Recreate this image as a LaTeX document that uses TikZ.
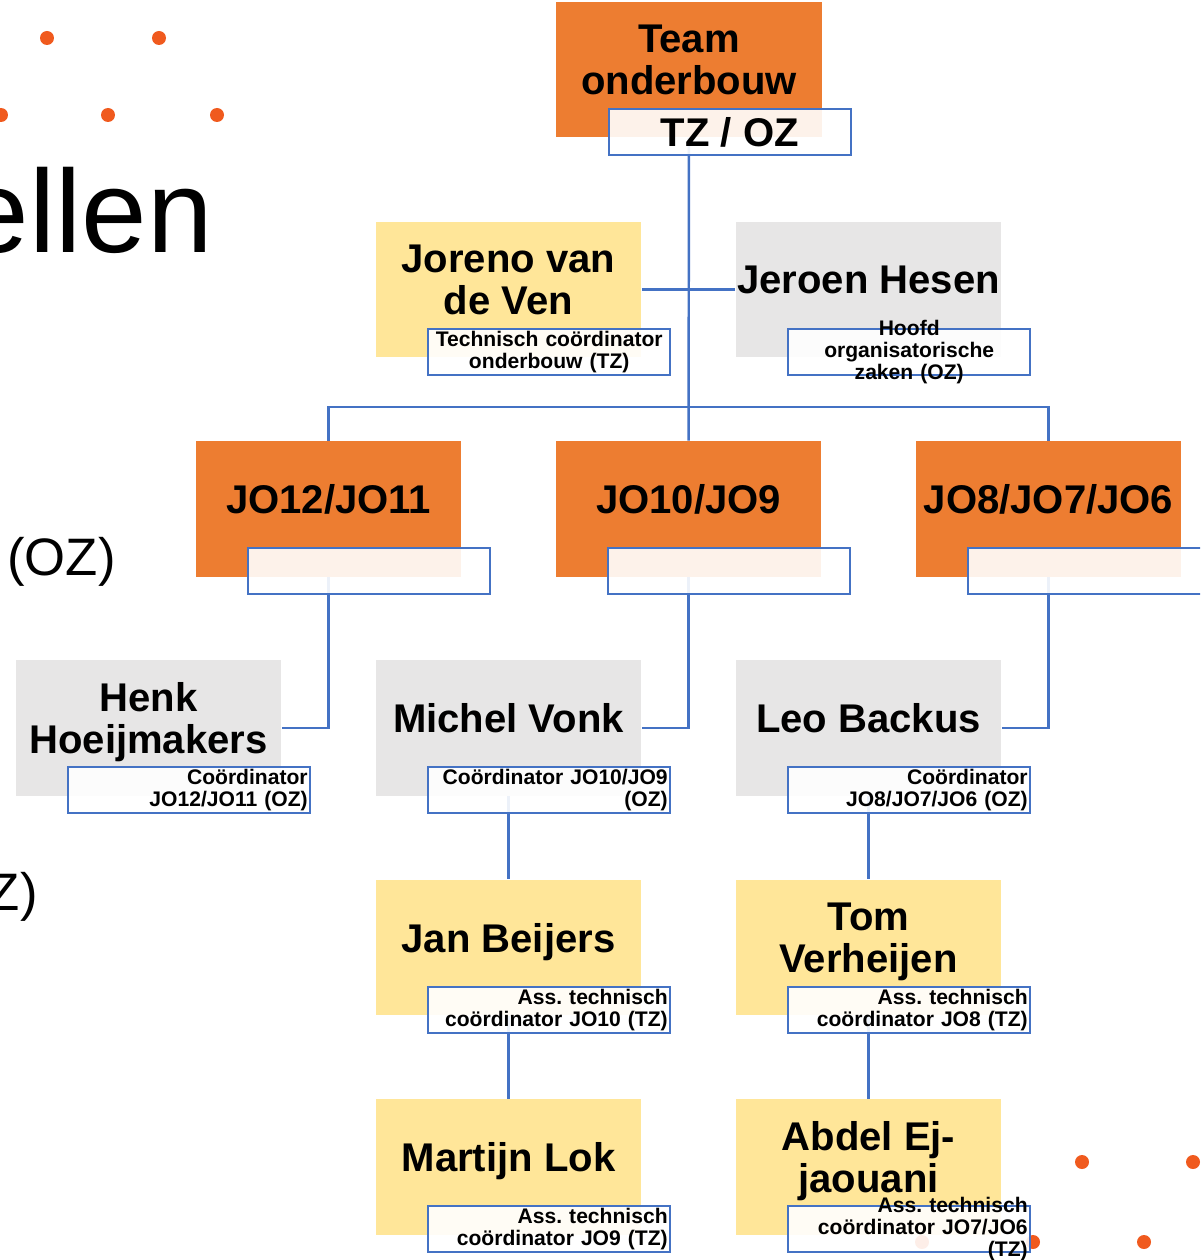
\documentclass[tikz,border=0pt]{standalone}
\usepackage{fontspec}
\setmainfont{Liberation Sans}
\usepackage{xcolor}
\usetikzlibrary{positioning}

\definecolor{oranje}{HTML}{ED7D31}
\definecolor{geel}{HTML}{FFE699}
\definecolor{grijs}{HTML}{E7E6E6}
\definecolor{lijn}{HTML}{4472C4}
\definecolor{stip}{HTML}{F05A1E}

\begin{document}
\frenchspacing
\begin{tikzpicture}[
    x=0.02cm,y=-0.02cm,
    unit/.style={rectangle,minimum width=5.32cm,minimum height=2.72cm,inner sep=0pt},
    nametext/.style={font=\bfseries\fontsize{22.8}{23.6}\selectfont,align=center,inner sep=0pt,text depth=0pt},
    role/.style={rectangle,draw=lijn,line width=1.2pt,fill=white,fill opacity=0.9,minimum width=4.84cm,minimum height=0.92cm,inner sep=0pt,above right=-0.36cm and 1.04cm of #1},
    roletext/.style={font=\bfseries\fontsize{12}{12.6}\selectfont,text width=4.74cm,align=#1,inner sep=0pt},
    roletext/.default=right,
    link/.style={draw=lijn,line width=1.4pt},
    stipje/.style={circle,fill=stip,minimum size=0.28cm,inner sep=0pt},
    slidetext/.style={font=\fontsize{#1}{#1}\selectfont,anchor=base east,inner sep=0pt}
]
    \useasboundingbox (0,0) rectangle (1200,1260);
    \clip (0,0) rectangle (1200,1260);

    % Slide background: dots and cut-off title text
    \foreach \x/\y in {47/38,159/38,1/115,108/115,217/115,1082/1162,1193/1162,922/1242,1033/1242,1144/1242}
        \node[stipje] (s\x) at (\x,\y) {};
    \node[slidetext=67] (titel) at (213,253) {ellen};
    \node[slidetext=30] (oz) at (116,575) {(OZ)};
    \node[slidetext=30] (tz) at (38,910) {Z)};

    % Top: team
    \node[unit,fill=oranje] (team) at (689,69.5) {};
    \node[nametext] at ([yshift=0.2cm]team.center) {Team\\onderbouw};

    % Second row: coordinators
    \node[unit,fill=geel] (joreno) at (508.5,289.5) {};
    \node[nametext] at ([yshift=0.2cm]joreno.center) {Joreno van\\de Ven};
    \node[unit,fill=grijs] (jeroen) at (868.5,289.5) {};
    \node[nametext] at ([yshift=0.2cm]jeroen.center) {Jeroen Hesen};

    % Third row: age groups
    \node[unit,fill=oranje] (jo1211) at (328.5,509) {};
    \node[nametext] at ([yshift=0.2cm]jo1211.center) {JO12/JO11};
    \node[unit,fill=oranje] (jo109) at (688.5,509) {};
    \node[nametext] at ([yshift=0.2cm]jo109.center) {JO10/JO9};
    \node[unit,fill=oranje] (jo876) at (1048.5,509) {};
    \node[nametext] at ([yshift=0.2cm]jo876.center) {JO8/JO7/JO6};

    % Fourth row: group coordinators
    \node[unit,fill=grijs] (henk) at (148.5,728) {};
    \node[nametext] at ([yshift=0.2cm]henk.center) {Henk\\Hoeijmakers};
    \node[unit,fill=grijs] (michel) at (508.5,728) {};
    \node[nametext] at ([yshift=0.2cm]michel.center) {Michel Vonk};
    \node[unit,fill=grijs] (leo) at (868.5,728) {};
    \node[nametext] at ([yshift=0.2cm]leo.center) {Leo Backus};

    % Fifth and sixth row: assistants
    \node[unit,fill=geel] (jan) at (508.5,947.5) {};
    \node[nametext] at ([yshift=0.2cm]jan.center) {Jan Beijers};
    \node[unit,fill=geel] (tom) at (868.5,947.5) {};
    \node[nametext] at ([yshift=0.2cm]tom.center) {Tom\\Verheijen};
    \node[unit,fill=geel] (martijn) at (508.5,1167) {};
    \node[nametext] at ([yshift=0.2cm]martijn.center) {Martijn Lok};
    \node[unit,fill=geel] (abdel) at (868.5,1167) {};
    \node[nametext] at ([yshift=0.2cm]abdel.center) {Abdel Ej-\\jaouani};

    % Relationships
    \coordinate (balk) at (688.5,407);
    \draw[link] (team) -- (jo109);
    \draw[link] (joreno) -- (jeroen);
    \draw[link] (jo1211) |- (balk) -| (jo876);
    \draw[link] (jo1211) |- (henk);
    \draw[link] (jo109) |- (michel);
    \draw[link] (jo876) |- (leo);
    \draw[link] (michel) -- (jan) -- (martijn);
    \draw[link] (leo) -- (tom) -- (abdel);

    % Role boxes
    \node[role=team.south west] (teamrol) {};
    \node[nametext] at (teamrol) {TZ / OZ};
    \node[role=joreno.south west] (jorenorol) {};
    \node[roletext=center] at (jorenorol) {Technisch coördinator\\onderbouw (TZ)};
    \node[role=jeroen.south west] (jeroenrol) {};
    \node[roletext=center] at (jeroenrol) {Hoofd\\organisatorische\\zaken (OZ)};
    \node[role=jo1211.south west] (jo1211rol) {};
    \node[role=jo109.south west] (jo109rol) {};
    \node[role=jo876.south west] (jo876rol) {};
    \node[role=henk.south west] (henkrol) {};
    \node[roletext] at (henkrol) {Coördinator\\JO12/JO11 (OZ)};
    \node[role=michel.south west] (michelrol) {};
    \node[roletext] at (michelrol) {Coördinator JO10/JO9\\(OZ)};
    \node[role=leo.south west] (leorol) {};
    \node[roletext] at (leorol) {Coördinator\\JO8/JO7/JO6 (OZ)};
    \node[role=jan.south west] (janrol) {};
    \node[roletext] at (janrol) {Ass. technisch\\coördinator JO10 (TZ)};
    \node[role=tom.south west] (tomrol) {};
    \node[roletext] at (tomrol) {Ass. technisch\\coördinator JO8 (TZ)};
    \node[role=martijn.south west] (martijnrol) {};
    \node[roletext] at (martijnrol) {Ass. technisch\\coördinator JO9 (TZ)};
    \node[role=abdel.south west] (abdelrol) {};
    \node[roletext] at (abdelrol) {Ass. technisch\\coördinator JO7/JO6\\(TZ)};
\end{tikzpicture}
\end{document}
